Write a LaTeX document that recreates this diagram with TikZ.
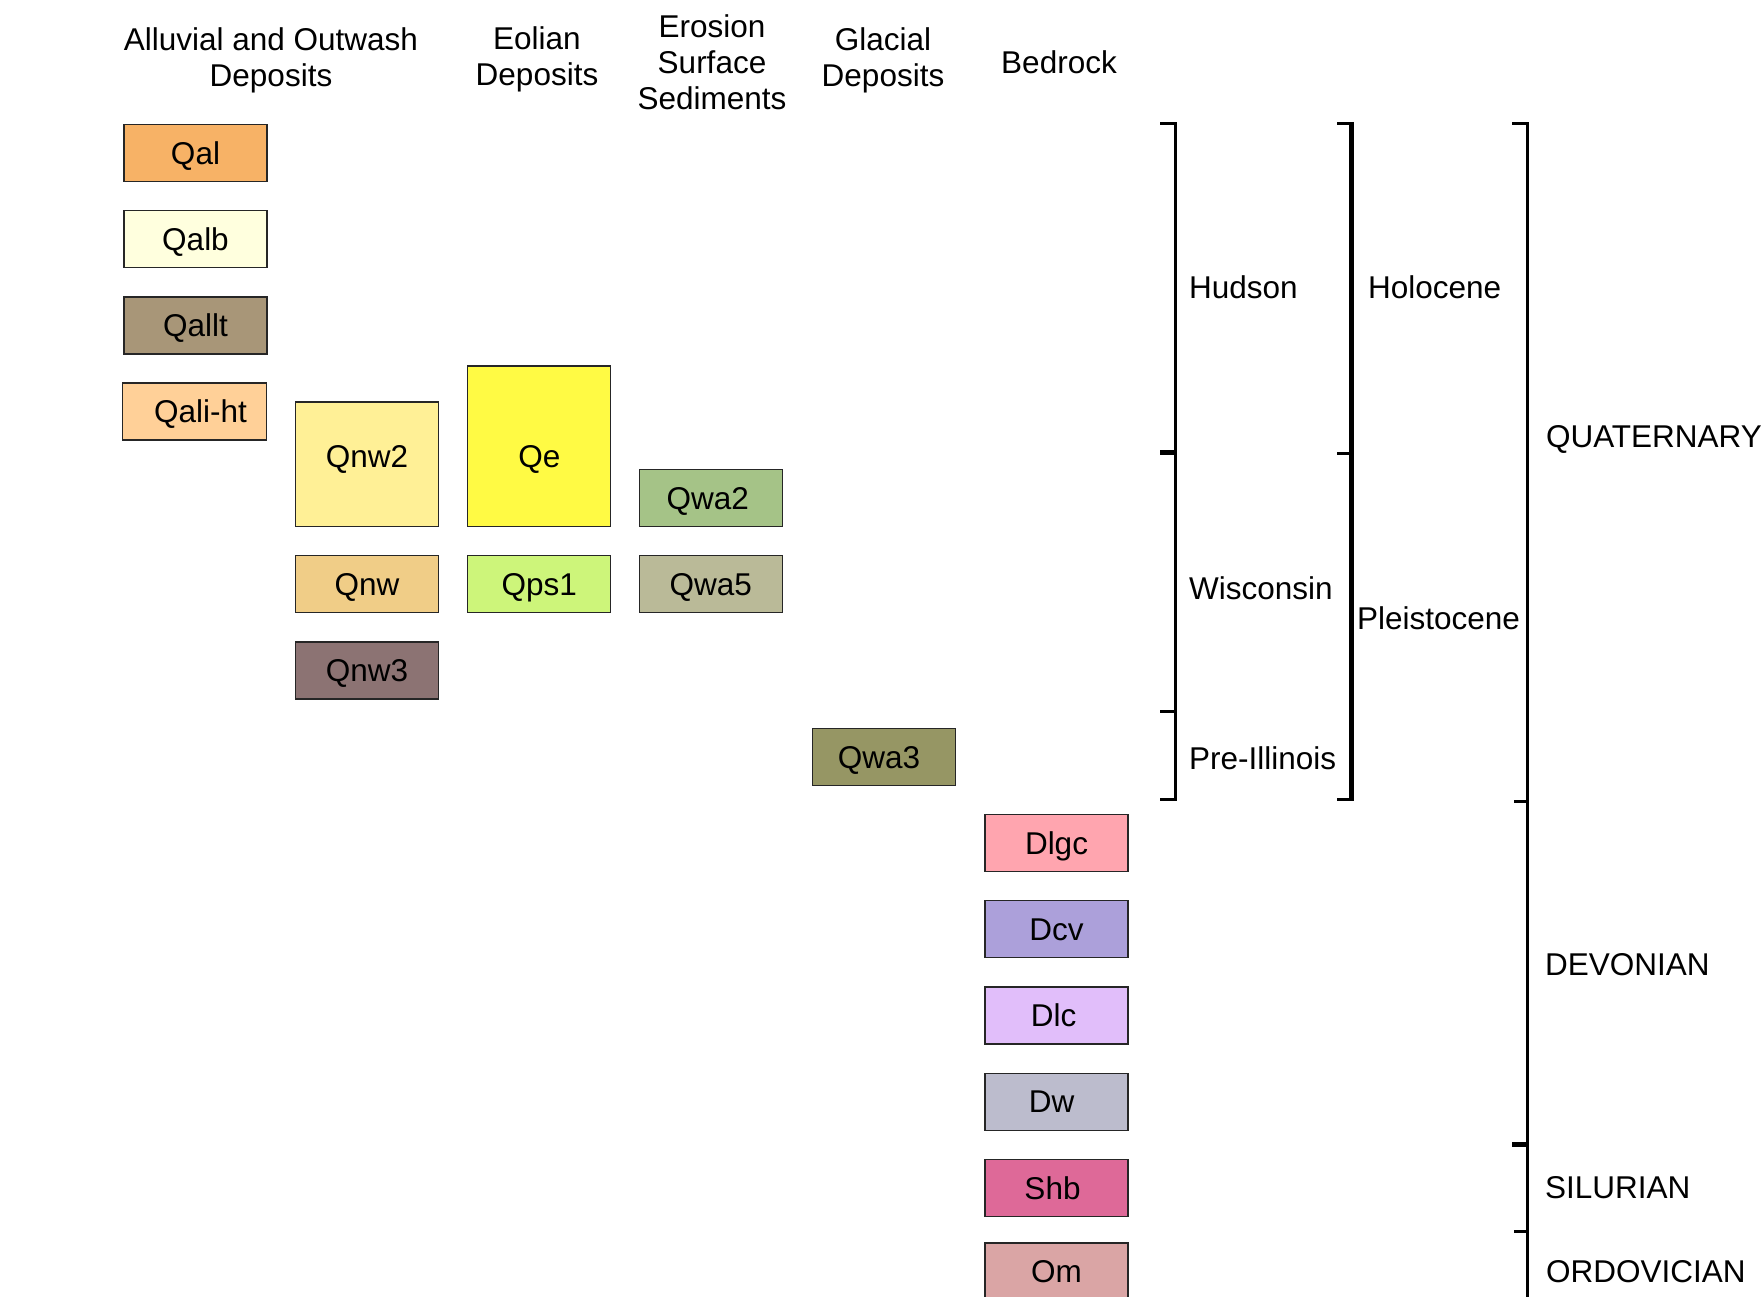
\documentclass[tikz,border=0pt]{standalone}
\usepackage{fontspec}
\setmainfont{Liberation Sans}
\definecolor{cQal}{RGB}{247,178,102}
\definecolor{cQalb}{RGB}{255,255,222}
\definecolor{cQallt}{RGB}{168,150,120}
\definecolor{cQaliht}{RGB}{255,208,152}
\definecolor{cQnwtwo}{RGB}{255,240,150}
\definecolor{cQnw}{RGB}{240,205,135}
\definecolor{cQnwthree}{RGB}{140,115,115}
\definecolor{cQe}{RGB}{255,250,68}
\definecolor{cQps}{RGB}{205,245,122}
\definecolor{cQwatwo}{RGB}{165,195,135}
\definecolor{cQwafive}{RGB}{186,186,152}
\definecolor{cQwathree}{RGB}{150,150,100}
\definecolor{cDlgc}{RGB}{255,165,175}
\definecolor{cDcv}{RGB}{172,160,218}
\definecolor{cDlc}{RGB}{225,190,250}
\definecolor{cDw}{RGB}{188,188,205}
\definecolor{cShb}{RGB}{222,105,152}
\definecolor{cOm}{RGB}{218,165,165}
\begin{document}
\begin{tikzpicture}[x=1pt,y=-1pt,
  every node/.style={font=\fontsize{31.5}{36}\selectfont},
  unit/.style={draw=black!85,line width=1.2pt,minimum width=143pt,minimum height=57pt,
    inner sep=0pt,text height=22.5pt,text depth=0pt},
  head/.style={align=center},
  age/.style={anchor=west},
  brk/.style={line width=3pt,line join=miter}]
\useasboundingbox (0,0) rectangle (1763,1297);
% column heads
\node[head] (halluv) at (271,60.5) {Alluvial and Outwash\\Deposits};
\node[head] (heolian) at (537,59.5) {Eolian\\Deposits};
\node[head] (herosion) at (712,62) {Erosion\\Surface\\Sediments};
\node[head] (hglacial) at (883,60.5) {Glacial\\Deposits};
\node[head] (hbedrock) at (1059,62) {Bedrock};
% alluvial and outwash
\node[unit,fill=cQal] (qal) at (195.5,153) {Qal};
\node[unit,fill=cQalb] (qalb) at (195.5,239) {Qalb};
\node[unit,fill=cQallt] (qallt) at (195.5,325.5) {Qallt};
\node[unit,fill=cQaliht,minimum width=144pt] (qaliht) at (194.5,411.5) {\hspace*{12pt}Qali-ht};
\node[unit,fill=cQnwtwo,minimum height=124.5pt,text height=28pt,text depth=21pt] (qnwtwo) at (367,464.3) {Qnw2};
\node[unit,fill=cQnw] (qnw) at (367,584.3) {Qnw};
\node[unit,fill=cQnwthree] (qnwthree) at (367,670.5) {Qnw3};
% eolian
\node[unit,fill=cQe,minimum height=160.5pt,text height=43pt] (qe) at (539.3,446.3) {Qe};
\node[unit,fill=cQps] (qps) at (539.3,584.3) {Qps1};
% erosion surface
\node[unit,fill=cQwatwo] (qwatwo) at (710.7,497.8) {Qwa2\hspace*{6pt}};
\node[unit,fill=cQwafive] (qwafive) at (710.7,584.3) {Qwa5};
% glacial
\node[unit,fill=cQwathree] (qwathree) at (884,757) {Qwa3\hspace*{10pt}};
% bedrock
\node[unit,fill=cDlgc] (dlgc) at (1056.5,843) {Dlgc};
\node[unit,fill=cDcv] (dcv) at (1056.5,929.2) {Dcv};
\node[unit,fill=cDlc] (dlc) at (1056.5,1015.5) {Dlc\hspace*{6pt}};
\node[unit,fill=cDw] (dw) at (1056.5,1101.7) {Dw\hspace*{10pt}};
\node[unit,fill=cShb] (shb) at (1056.5,1188) {Shb\hspace*{8pt}};
\node[unit,fill=cOm] (om) at (1056.5,1271.5) {Om};
% stages
\draw[brk] (1160,123.5) -- (1175.5,123.5) -- (1175.5,799.5) -- (1160,799.5);
\draw[brk,line width=4.5pt] (1160,452.5) -- (1175.5,452.5);
\draw[brk] (1160,711.7) -- (1175.5,711.7);
\node[age] (hudson) at (1185.5,287) {Hudson};
\node[age] (wisc) at (1185.5,588) {Wisconsin};
\node[age] (preill) at (1185.5,758) {Pre-Illinois};
% epochs
\draw[brk,line width=5pt] (1351.5,122) -- (1351.5,801);
\draw[brk] (1337,123.5) -- (1354,123.5);
\draw[brk] (1337,453) -- (1351.5,453);
\draw[brk] (1337,799.5) -- (1354,799.5);
\node[age] (holo) at (1364.5,287) {Holocene};
\node[age] (pleist) at (1353.5,618) {Pleistocene};
% periods
\draw[brk] (1512,123.5) -- (1527.5,123.5) -- (1527.5,1310);
\draw[brk] (1514,801.5) -- (1527.5,801.5);
\draw[brk,line width=4.5pt] (1512,1144.3) -- (1527.5,1144.3);
\draw[brk] (1514,1231) -- (1527.5,1231);
\node[age] (quat) at (1542.5,439.5) {QUATERNARY};
\node[age] (devon) at (1541.5,965) {DEVONIAN};
\node[age] (silur) at (1541.5,1188) {SILURIAN};
\node[age] (ordov) at (1542.5,1272) {ORDOVICIAN};
\end{tikzpicture}
\end{document}
